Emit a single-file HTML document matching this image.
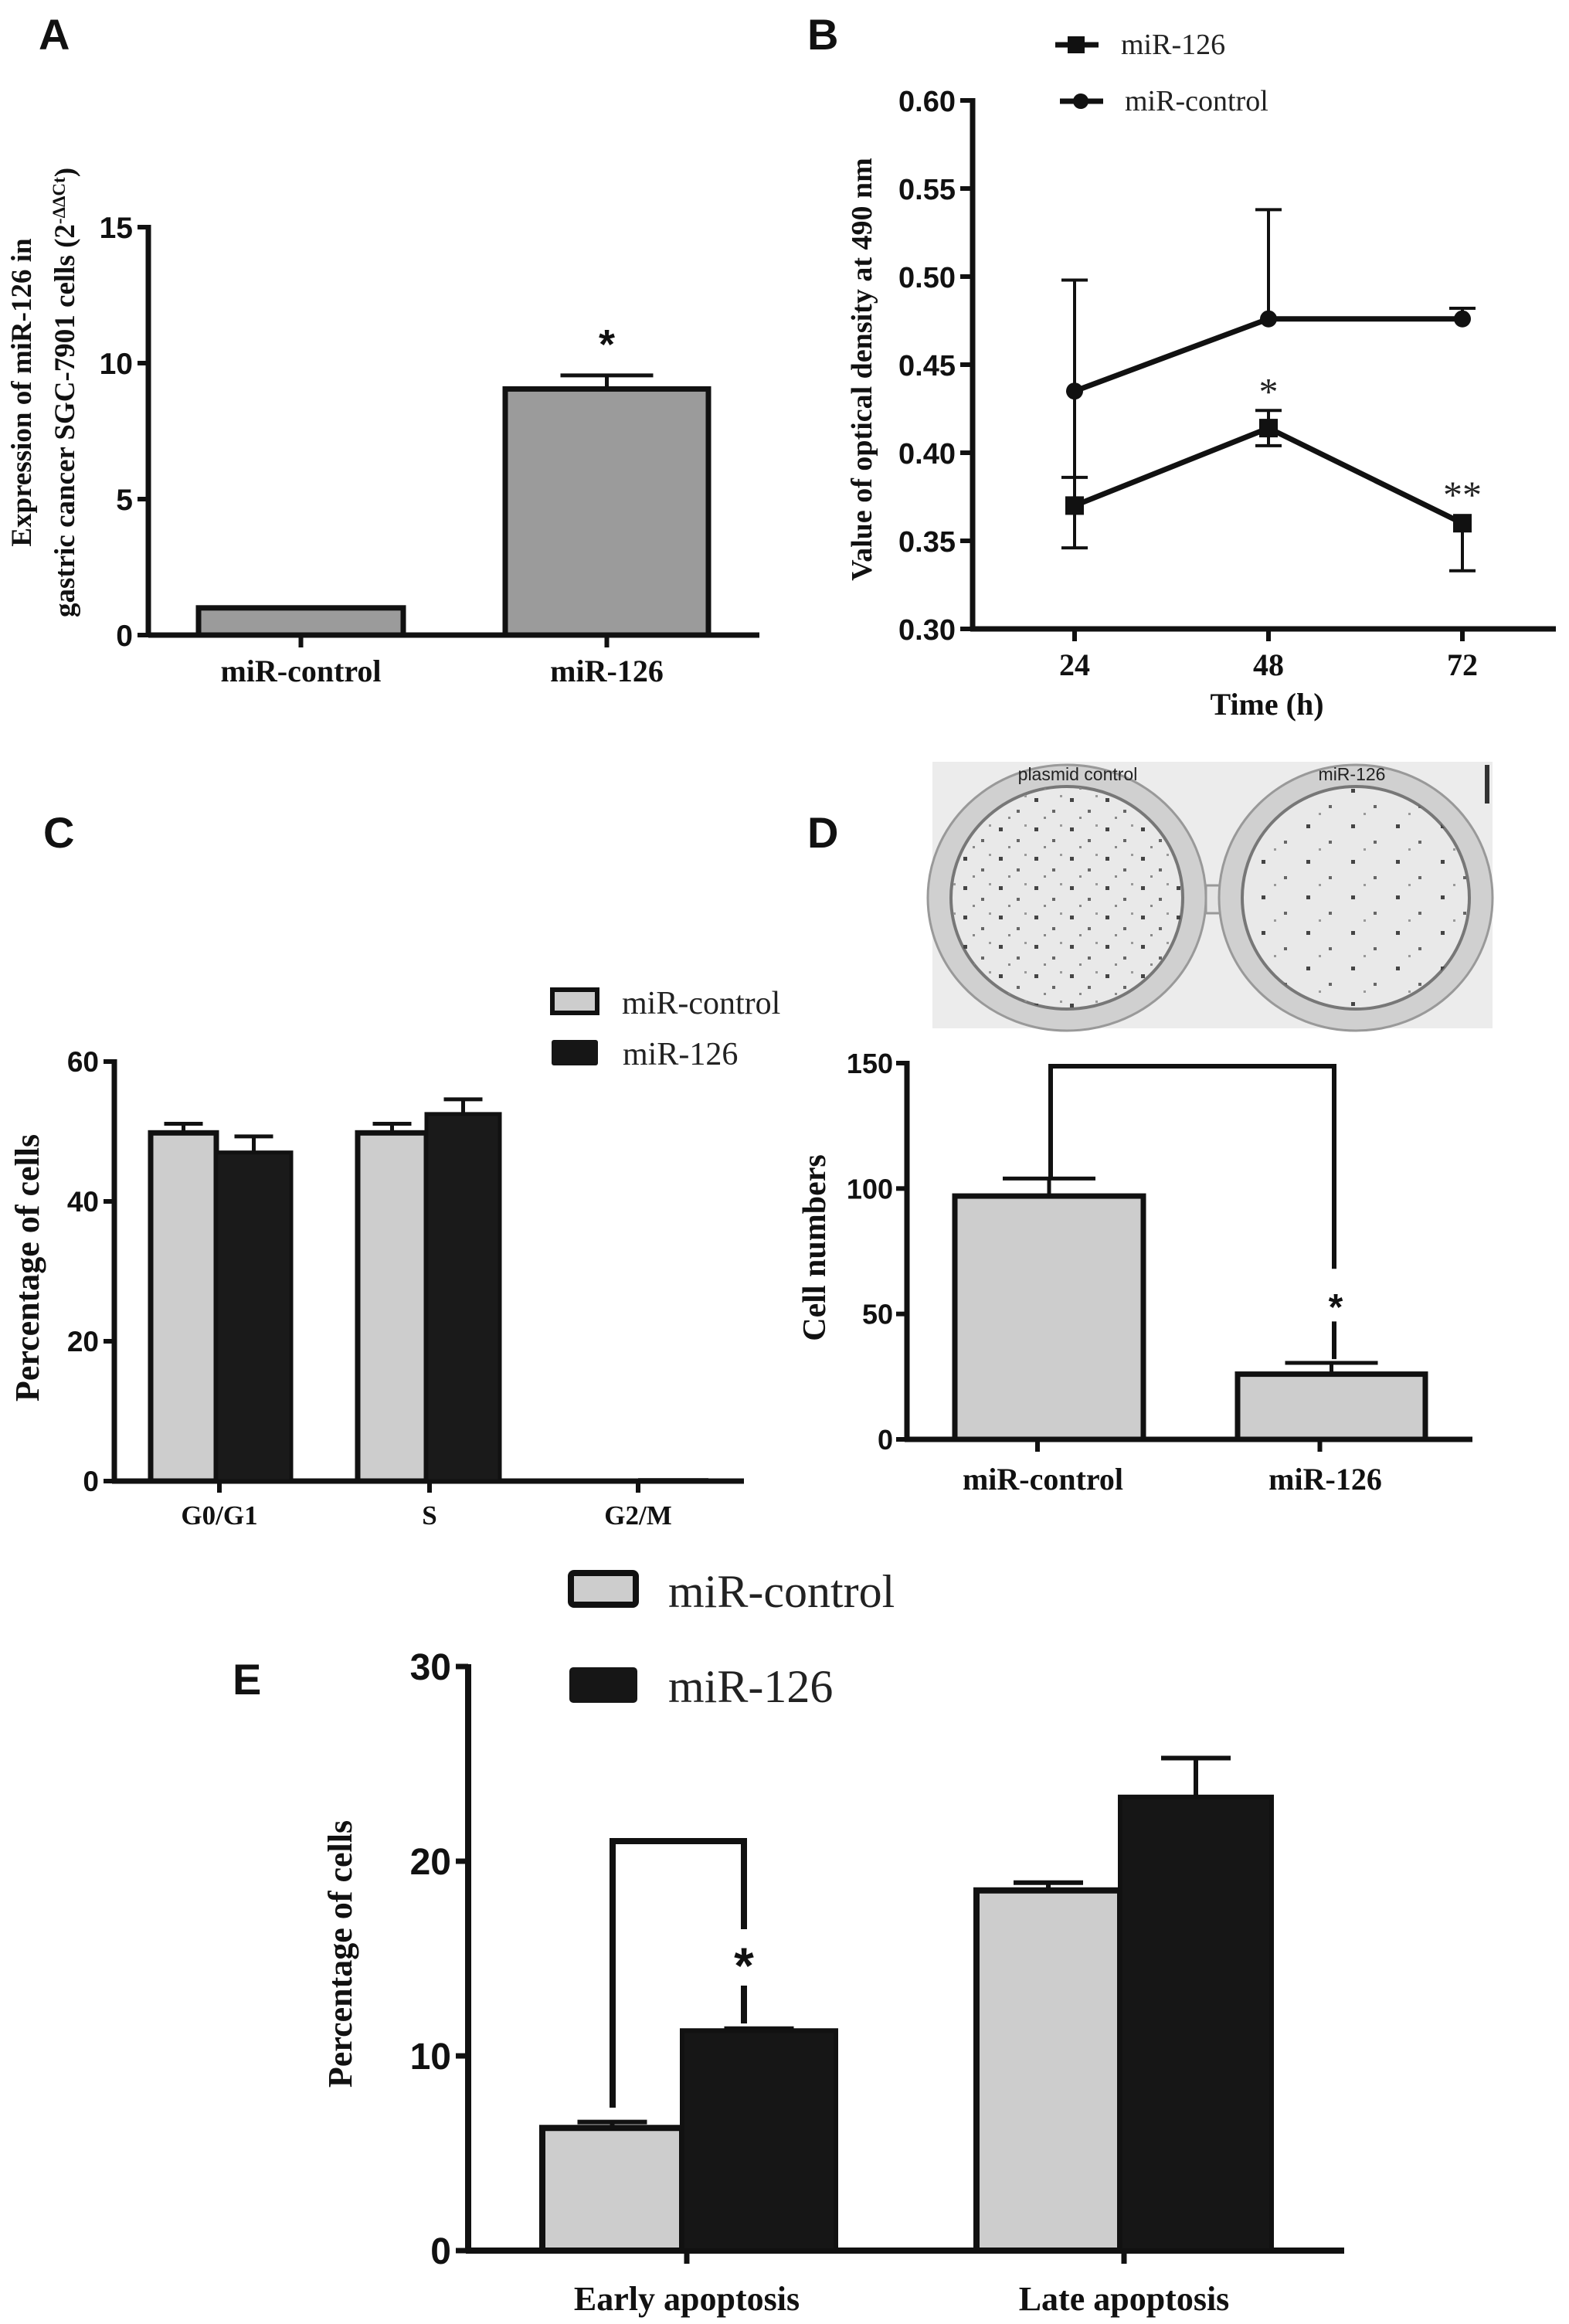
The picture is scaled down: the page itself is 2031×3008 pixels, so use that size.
<!DOCTYPE html>
<html><head><meta charset="utf-8"><style>
html,body{margin:0;padding:0;background:#fff}
svg{display:block}
.tick{font-family:"Liberation Sans",sans-serif;font-weight:bold;fill:#111}
.ser{font-family:"Liberation Serif",serif;font-weight:bold;fill:#111}
.leg{font-family:"Liberation Serif",serif;fill:#222}
.pl{font-family:"Liberation Sans",sans-serif;font-weight:bold;fill:#111;font-size:56px}
</style></head><body>
<svg id="fig" width="2031" height="3008" viewBox="0 0 2031 3008" xmlns="http://www.w3.org/2000/svg">
<text class="pl" x="50" y="64">A</text>
<text class="pl" x="1045" y="64">B</text>
<text class="pl" x="56" y="1097">C</text>
<text class="pl" x="1045" y="1097">D</text>
<text class="pl" x="301" y="2193">E</text>

<g id="colony">
<defs>
<pattern id="dots" width="46" height="38" patternUnits="userSpaceOnUse">
<rect x="5" y="7" width="5" height="5" fill="#444"/><rect x="28" y="22" width="4" height="4" fill="#666"/><rect x="17" y="31" width="3" height="3" fill="#888"/><rect x="38" y="3" width="3" height="3" fill="#999"/>
</pattern>
<pattern id="dots2" width="58" height="46" patternUnits="userSpaceOnUse">
<rect x="9" y="9" width="5" height="5" fill="#444"/><rect x="38" y="30" width="4" height="4" fill="#666"/><rect x="25" y="40" width="3" height="3" fill="#999"/>
</pattern>
</defs>
<rect x="1207" y="986" width="725" height="345" fill="#ececec"/>
<rect x="1561" y="1146" width="34" height="36" fill="#e4e4e4" stroke="#999" stroke-width="3"/>
<ellipse cx="1381" cy="1162" rx="180" ry="172" fill="#d0d0d0" stroke="#999" stroke-width="3"/>
<ellipse cx="1381" cy="1162" rx="150" ry="144" fill="#e9e9e9" stroke="#777" stroke-width="4"/>
<ellipse cx="1381" cy="1162" rx="150" ry="144" fill="url(#dots)"/>
<ellipse cx="1755" cy="1162" rx="177" ry="172" fill="#d0d0d0" stroke="#999" stroke-width="3"/>
<ellipse cx="1755" cy="1162" rx="147" ry="144" fill="#e9e9e9" stroke="#777" stroke-width="4"/>
<ellipse cx="1755" cy="1162" rx="147" ry="144" fill="url(#dots2)"/>
<rect x="1922" y="990" width="6" height="50" fill="#333"/>
<text x="1395" y="1010" font-family="'Liberation Sans',sans-serif" font-size="23" fill="#222" text-anchor="middle">plasmid control</text>
<text x="1750" y="1010" font-family="'Liberation Sans',sans-serif" font-size="23" fill="#222" text-anchor="middle">miR-126</text>
</g>
</svg>
<script>
// Panel A data
const aCats=["miR-control","miR-126"];
const aVals=[1.0,9.05];
const aErr=[0.0,0.5];
const aTicks=[0,5,10,15];
// Panel B data
const bTimes=[24,48,72];
const bMir=[0.370,0.414,0.360];
const bMirErrUp=[0.016,0.010,0.0];
const bMirErrDn=[0.024,0.010,0.027];
const bCtrl=[0.435,0.476,0.476];
const bCtrlErr=[0.063,0.062,0.006];
const bTicks=[0.30,0.35,0.40,0.45,0.50,0.55,0.60];
// Panel C data
const cCats=["G0/G1","S","G2/M"];
const cCtrl=[49.8,49.8,0.2];
const cCtrlErr=[1.3,1.3,0];
const cMir=[47.0,52.5,0];
const cMirErr=[2.3,2.1,0];
const cTicks=[0,20,40,60];
// Panel D data
const dCats=["miR-control","miR-126"];
const dVals=[97,26];
const dErr=[7,4.5];
const dTicks=[0,50,100,150];
// Panel E data
const eCats=["Early apoptosis","Late apoptosis"];
const eCtrl=[6.3,18.5];
const eCtrlErr=[0.3,0.4];
const eMir=[11.3,23.3];
const eMirErr=[0.1,2.0];
const eTicks=[0,10,20,30];

const svg=document.getElementById('fig');
const NS='http://www.w3.org/2000/svg';
function mk(tag,attrs,parent,txt){const e=document.createElementNS(NS,tag);for(const k in attrs)e.setAttribute(k,attrs[k]);if(txt!==undefined)e.textContent=txt;(parent||svg).appendChild(e);return e;}
function lin(d0,d1,r0,r1){return v=>r0+(v-d0)*(r1-r0)/(d1-d0);}
function line(g,x1,y1,x2,y2,w){return mk('line',{x1:x1,y1:y1,x2:x2,y2:y2,stroke:'#111','stroke-width':w||6},g);}

// ---------- Panel A ----------
(function(){
const g=mk('g',{});


const Y0=822;
const y=lin(0,15,Y0,294);
const bx=[[257,522],[654,917]];
line(g,192,y(15)-3,192,Y0+3,7);
line(g,192,Y0,983,Y0,7);
aTicks.forEach(t=>{line(g,178,y(t),192,y(t),6);
 const tx=mk('text',{x:172,y:y(t)+14,'text-anchor':'end','font-size':39,class:'tick'},g,String(t));
 
 });
aVals.forEach((v,i)=>{const [x0,x1]=bx[i];const cx=(x0+x1)/2;
 if(aErr[i]>0){line(g,cx,y(v),cx,y(v+aErr[i]),5);line(g,cx-60,y(v+aErr[i]),cx+60,y(v+aErr[i]),5);}
 const r=mk('rect',{x:x0,y:y(v),width:x1-x0,height:Y0-y(v),fill:'#9b9b9b',stroke:'#111','stroke-width':7},g);
 
 
 line(g,cx,Y0,cx,Y0+16,6);
 const t=mk('text',{x:cx,y:882,'text-anchor':'middle','font-size':40,class:'ser'},g,aCats[i]);
 
 });
const st=mk('text',{x:(bx[1][0]+bx[1][1])/2,y:y(aVals[1]+aErr[1])-22,'text-anchor':'middle','font-size':54,class:'tick'},g,'*');


const yt=mk('text',{transform:'translate(40,508) rotate(-90)','text-anchor':'middle','font-size':37,class:'ser'},g);


mk('tspan',{x:0,y:0},yt,'Expression of miR-126 in');
mk('tspan',{x:0,y:56},yt,'gastric cancer SGC-7901 cells (2');
mk('tspan',{'baseline-shift':'super','font-size':23},yt,'-ΔΔCt');
mk('tspan',{},yt,')');
})();

// ---------- Panel B ----------
(function(){
const g=mk('g',{});


const Y0=814;
const y=lin(0.30,0.60,Y0,130);
const x=lin(24,72,1391,1893);
line(g,1259,y(0.60)-3,1259,Y0+3,7);
line(g,1256,Y0,2014,Y0,7);
bTicks.forEach(t=>{line(g,1243,y(t),1259,y(t),6);
 const tx=mk('text',{x:1237,y:y(t)+14,'text-anchor':'end','font-size':38,class:'tick'},g,t.toFixed(2));
 
 });
bTimes.forEach(t=>{line(g,x(t),Y0,x(t),Y0+16,6);
 const tx=mk('text',{x:x(t),y:874,'text-anchor':'middle','font-size':40,class:'ser'},g,String(t));
 
 });
const xt=mk('text',{x:1640,y:925,'text-anchor':'middle','font-size':40,class:'ser'},g,'Time (h)');


const yt=mk('text',{transform:'translate(1128,478) rotate(-90)','text-anchor':'middle','font-size':38,class:'ser'},g,'Value of optical density at 490 nm');


bTimes.forEach((t,i)=>{const cx=x(t);
 const up=bCtrl[i]+bCtrlErr[i];line(g,cx,y(bCtrl[i]),cx,y(up),4);line(g,cx-17,y(up),cx+17,y(up),4);
 const mu=bMir[i]+bMirErrUp[i],md=bMir[i]-bMirErrDn[i];
 if(bMirErrUp[i]>0){line(g,cx,y(bMir[i]),cx,y(mu),4);line(g,cx-17,y(mu),cx+17,y(mu),4);}
 line(g,cx,y(bMir[i]),cx,y(md),4);line(g,cx-17,y(md),cx+17,y(md),4);});
line(g,x(24),y(bCtrl[0]),x(24),y(bMir[0]),4);
const pc=bTimes.map((t,i)=>x(t)+','+y(bCtrl[i])).join(' ');
const l1=mk('polyline',{points:pc,fill:'none',stroke:'#111','stroke-width':7},g);


const pm=bTimes.map((t,i)=>x(t)+','+y(bMir[i])).join(' ');
const l2=mk('polyline',{points:pm,fill:'none',stroke:'#111','stroke-width':7},g);


bTimes.forEach((t,i)=>{
 const c=mk('circle',{cx:x(t),cy:y(bCtrl[i]),r:11,fill:'#111'},g);
 
 
 const s=mk('rect',{x:x(t)-12,y:y(bMir[i])-12,width:24,height:24,fill:'#111'},g);
 
 });
const s1=mk('text',{x:x(48),y:y(0.414+0.010)-8,'text-anchor':'middle','font-size':50,class:'leg'},g,'*');


const s2=mk('text',{x:x(72),y:y(0.36)-20,'text-anchor':'middle','font-size':50,class:'leg'},g,'**');


line(g,1366,58,1422,58,7);mk('rect',{x:1382,y:47,width:22,height:22,fill:'#111'},g);
line(g,1372,131,1428,131,7);mk('circle',{cx:1399,cy:131,r:10,fill:'#111'},g);
const lt1=mk('text',{x:1451,y:70,'font-size':38,class:'leg'},g,'miR-126');


const lt2=mk('text',{x:1456,y:143,'font-size':38,class:'leg'},g,'miR-control');


})();

// ---------- Panel C ----------
(function(){
const g=mk('g',{});


const Y0=1917;
const y=lin(0,60,Y0,1374);
const groups=[[195,280,377],[463,552,647],[826,871,917]];
const tickx=[284,556,826];
line(g,148,1371,148,Y0+3,7);line(g,145,Y0,963,Y0,7);
cTicks.forEach(t=>{line(g,134,y(t),148,y(t),6);
 const tx=mk('text',{x:128,y:y(t)+13,'text-anchor':'end','font-size':37,class:'tick'},g,String(t));
 
 });
cCats.forEach((c,i)=>{const [a,m,b]=groups[i];
 if(cCtrl[i]>1){
 const cx=(a+m)/2,cy2=(m+b)/2;
 if(cCtrlErr[i]>0){line(g,cx,y(cCtrl[i]),cx,y(cCtrl[i]+cCtrlErr[i]),5);line(g,cx-25,y(cCtrl[i]+cCtrlErr[i]),cx+25,y(cCtrl[i]+cCtrlErr[i]),5);}
 if(cMirErr[i]>0){line(g,cy2,y(cMir[i]),cy2,y(cMir[i]+cMirErr[i]),5);line(g,cy2-25,y(cMir[i]+cMirErr[i]),cy2+25,y(cMir[i]+cMirErr[i]),5);}
 const r1=mk('rect',{x:a,y:y(cCtrl[i]),width:m-a,height:Y0-y(cCtrl[i]),fill:'#cdcdcd',stroke:'#111','stroke-width':7},g);
 
 
 const r2=mk('rect',{x:m,y:y(cMir[i]),width:b-m,height:Y0-y(cMir[i]),fill:'#1a1a1a',stroke:'#111','stroke-width':5},g);
 
 
 } else {
 const r1=mk('rect',{x:a,y:y(cCtrl[i])-2,width:b-a,height:3,fill:'#111'},g);
 
 
 }
 line(g,tickx[i],Y0,tickx[i],Y0+15,6);
 const t=mk('text',{x:tickx[i],y:1973,'text-anchor':'middle','font-size':35,class:'ser'},g,c);
 
 });
const yt=mk('text',{transform:'translate(50,1641) rotate(-90)','text-anchor':'middle','font-size':44,class:'ser'},g,'Percentage of cells');


mk('rect',{x:715,y:1281,width:58,height:30,fill:'#cdcdcd',stroke:'#111','stroke-width':6},g);
mk('rect',{x:714,y:1346,width:60,height:33,rx:3,fill:'#161616'},g);
const l1=mk('text',{x:805,y:1312,'font-size':42,class:'leg'},g,'miR-control');


const l2=mk('text',{x:806,y:1378,'font-size':42,class:'leg'},g,'miR-126');


})();

// ---------- Panel D ----------
(function(){
const g=mk('g',{});


const Y0=1863;
const y=lin(0,150,Y0,1376);
const bx=[[1236,1480],[1602,1845]];
line(g,1174,1373,1174,Y0+3,7);line(g,1171,Y0,1906,Y0,7);
dTicks.forEach(t=>{line(g,1160,y(t),1174,y(t),6);
 const tx=mk('text',{x:1156,y:y(t)+13,'text-anchor':'end','font-size':36,class:'tick'},g,String(t));
 
 });
dVals.forEach((v,i)=>{const [x0,x1]=bx[i];const cx=(x0+x1)/2;
 line(g,cx,y(v),cx,y(v+dErr[i]),5);line(g,cx-60,y(v+dErr[i]),cx+60,y(v+dErr[i]),5);
 const r=mk('rect',{x:x0,y:y(v),width:x1-x0,height:Y0-y(v),fill:'#cdcdcd',stroke:'#111','stroke-width':7},g);
 
 
 line(g,cx-15,Y0,cx-15,Y0+16,6);
 const t=mk('text',{x:cx-8,y:1928,'text-anchor':'middle','font-size':40,class:'ser'},g,dCats[i]);
 
 });
const br=mk('polyline',{points:'1360,'+y(104)+' 1360,1380 1727,1380 1727,'+y(68),fill:'none',stroke:'#111','stroke-width':6},g);


line(g,1727,y(47),1727,y(32),6);
const st=mk('text',{x:1729,y:1708,'text-anchor':'middle','font-size':48,class:'tick','font-weight':'normal'},g,'*');


const yt=mk('text',{transform:'translate(1068,1615) rotate(-90)','text-anchor':'middle','font-size':42,class:'ser'},g,'Cell numbers');


})();

// ---------- Panel E ----------
(function(){
const g=mk('g',{});


const y=lin(0,30,2913,2157);
const groups=[[702,883,1082],[1264,1450,1646]];
const tickx=[889,1455];
line(g,606,2154,606,2916,8);line(g,603,2913,1740,2913,8);
eTicks.forEach(t=>{line(g,590,y(t),606,y(t),7);
 const tx=mk('text',{x:584,y:y(t)+17,'text-anchor':'end','font-size':48,class:'tick'},g,String(t));
 
 });
eCats.forEach((c,i)=>{const [a,m,b]=groups[i];const cx=(a+m)/2,cy2=(m+b)/2;
 line(g,cx,y(eCtrl[i]),cx,y(eCtrl[i]+eCtrlErr[i]),6);line(g,cx-45,y(eCtrl[i]+eCtrlErr[i]),cx+45,y(eCtrl[i]+eCtrlErr[i]),6);
 line(g,cy2,y(eMir[i]),cy2,y(eMir[i]+eMirErr[i]),6);line(g,cy2-45,y(eMir[i]+eMirErr[i]),cy2+45,y(eMir[i]+eMirErr[i]),6);
 const r1=mk('rect',{x:a,y:y(eCtrl[i]),width:m-a,height:2913-y(eCtrl[i]),fill:'#cdcdcd',stroke:'#111','stroke-width':8},g);
 
 
 const r2=mk('rect',{x:m,y:y(eMir[i]),width:b-m,height:2913-y(eMir[i]),fill:'#161616',stroke:'#111','stroke-width':6},g);
 
 
 line(g,tickx[i],2913,tickx[i],2930,7);
 const t=mk('text',{x:tickx[i],y:2990,'text-anchor':'middle','font-size':44,class:'ser'},g,c);
 
 });
const br=mk('polyline',{points:'793,2728 793,2383 963,2383 963,2497',fill:'none',stroke:'#111','stroke-width':8},g);


line(g,963,2570,963,2619,8);
const st=mk('text',{x:963,y:2567,'text-anchor':'middle','font-size':66,class:'tick','font-weight':'normal'},g,'*');


const yt=mk('text',{transform:'translate(455,2529) rotate(-90)','text-anchor':'middle','font-size':44,class:'ser'},g,'Percentage of cells');


mk('rect',{x:739,y:2036,width:84,height:41,rx:4,fill:'#cdcdcd',stroke:'#111','stroke-width':8},g);
mk('rect',{x:737,y:2158,width:88,height:46,rx:5,fill:'#161616'},g);
const l1=mk('text',{x:865,y:2080,'font-size':60,class:'leg'},g,'miR-control');


const l2=mk('text',{x:865,y:2203,'font-size':60,class:'leg'},g,'miR-126');


})();
</script>
</body></html>
